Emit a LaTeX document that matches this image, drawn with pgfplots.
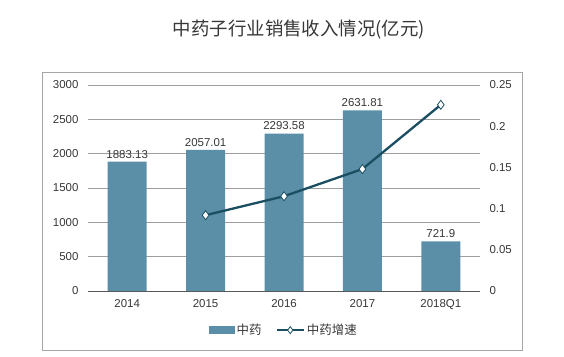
\documentclass[border=0pt]{standalone}
\usepackage{pgfplots}
\pgfplotsset{compat=1.18}
\usepackage{fontspec}
\setmainfont{Liberation Sans}
\newfontfamily\cjk{Noto Sans CJK SC}
\definecolor{barcol}{RGB}{91,143,167}
\definecolor{linecol}{RGB}{27,78,96}
\definecolor{txt}{RGB}{55,55,55}
\begin{document}
\begin{tikzpicture}[x=1bp,y=1bp]
\path[use as bounding box] (0,0) rectangle (564,356);
\draw[black!35, line width=0.8bp] (42,6) rectangle (522,284);
\node[font=\cjk\fontsize{18.5}{22}\selectfont, text=txt] at (299,326) {中药子行业销售收入情况(亿元)};
\begin{axis}[
  at={(88bp,65bp)}, anchor=south west, scale only axis,
  width=392bp, height=206bp,
  xmin=-0.5, xmax=4.5, ymin=0, ymax=3000,
  ytick={0,500,1000,1500,2000,2500,3000},
  xtick={0,1,2,3,4}, xticklabels={2014,2015,2016,2017,2018Q1},
  axis line style={draw=none},
  ymajorgrids, grid style={black!38, line width=0.7bp},
  major tick length=0pt,
  /pgf/number format/assume math mode=true,
  /pgf/number format/1000 sep={},
  tick label style={font=\fontsize{11.5}{13}\selectfont, text=txt},
  yticklabel style={anchor=east, xshift=-6bp},
  xticklabel style={anchor=north, yshift=-5bp},
  ybar, bar width=39bp,
  nodes near coords,
  nodes near coords style={font=\fontsize{11.5}{13}\selectfont, text=txt, anchor=south, yshift=0bp},
  point meta=explicit symbolic,
  clip=false,
]
\addplot[fill=barcol, draw=none] coordinates {(0,1883.13)[1883.13] (1,2057.01)[2057.01] (2,2293.58)[2293.58] (3,2631.81)[2631.81] (4,721.9)[721.9]};
\draw[black!65, line width=0.9bp] (axis cs:-0.5,0) -- (axis cs:4.5,0);
\end{axis}
\begin{axis}[
  at={(88bp,65bp)}, anchor=south west, scale only axis,
  width=392bp, height=206bp,
  xmin=-0.5, xmax=4.5, ymin=0, ymax=0.25,
  axis y line*=right, axis x line=none,
  axis line style={draw=none},
  ytick={0,0.05,0.1,0.15,0.2,0.25},
  yticklabels={0,0.05,0.1,0.15,0.2,0.25},
  major tick length=0pt,
  tick label style={font=\fontsize{11.5}{13}\selectfont, text=txt},
  yticklabel style={anchor=west, xshift=6bp},
  clip=false,
  legend style={at={(0.50,-0.19)}, anchor=center, draw=none, fill=none,
    legend columns=2, font=\cjk\fontsize{12.5}{14}\selectfont, text=txt,
    /tikz/every even column/.append style={column sep=12bp},
    inner sep=0pt},
]
\addlegendimage{legend image code/.code={\fill[barcol] (0bp,-3.5bp) rectangle (25bp,3.5bp);}}
\addplot[color=linecol, line width=2.3bp, mark=diamond*, mark size=4.5bp,
  mark options={fill=white, draw=linecol, line width=0.8bp},
  legend image code/.code={
    \draw[linecol, line width=2.3bp] (0bp,0bp) -- (27bp,0bp);
    \path[mark=diamond*, mark size=3.5bp, mark options={fill=white, draw=linecol, line width=0.8bp}] plot coordinates {(13.5bp,0bp)};
  }] coordinates {(1,0.092) (2,0.115) (3,0.148) (4,0.226)};
\legend{中药,中药增速}
\end{axis}
\end{tikzpicture}
\end{document}
